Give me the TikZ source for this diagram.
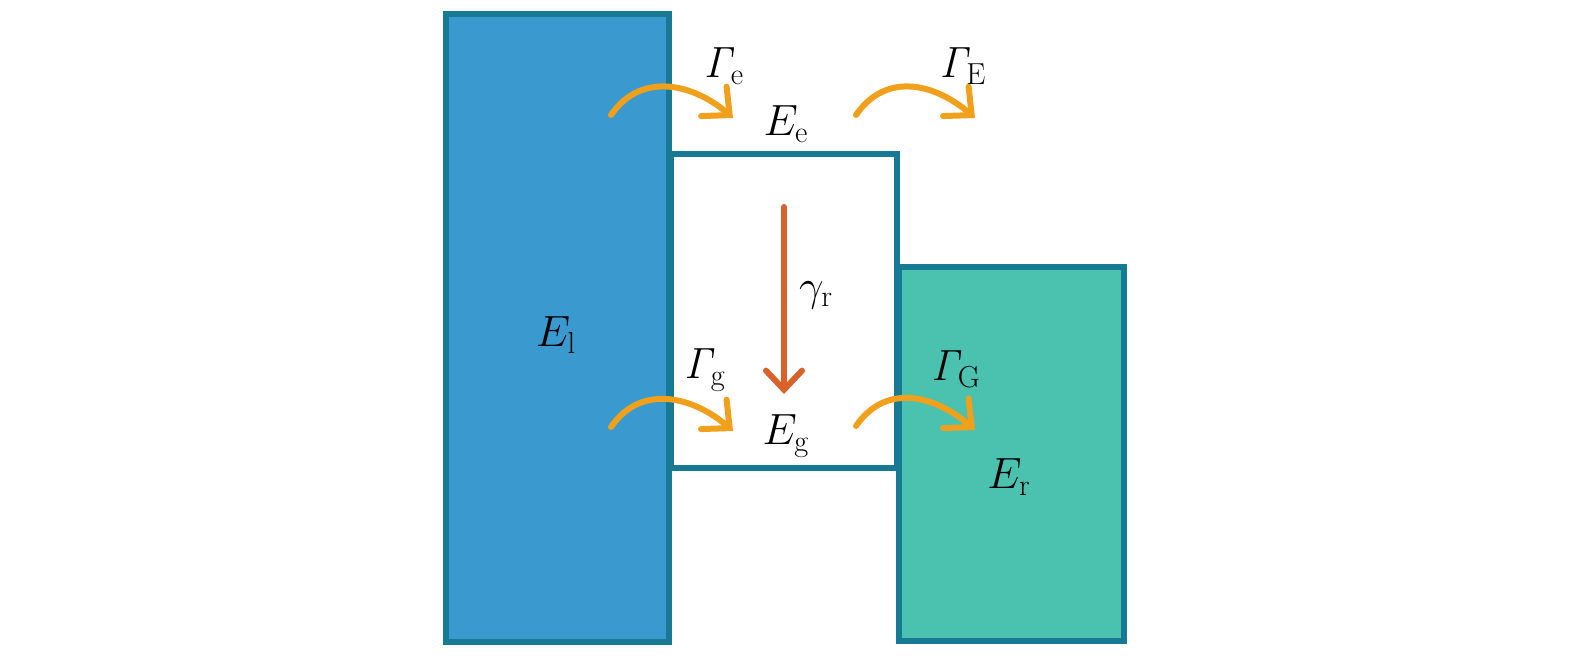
\documentclass[tikz,border=0pt]{standalone}
\usetikzlibrary{arrows.meta}
\definecolor{leadblue}{HTML}{3A9AD0}
\definecolor{leadgreen}{HTML}{4BC1AF}
\definecolor{edgeteal}{HTML}{177A94}
\definecolor{hoporange}{HTML}{F0A01A}
\definecolor{decayred}{HTML}{D9622B}
\tikzset{
  hop/.style={hoporange, line width=6pt*0.02/0.0352, line cap=round,
    -{Straight Barb[length=0.42cm, width=0.78cm, line cap=round]}},
  lbl/.style={font=\fontsize{23}{28}\selectfont}
}
\begin{document}
\begin{tikzpicture}[x=0.02cm, y=-0.02cm]
        \useasboundingbox (0,0) rectangle (1575,659);

        % Draw the dot levels
        \draw[edgeteal, line width=3pt, fill=white] (671,154) rectangle (897,468);

        % Draw left and right leads
        \draw[edgeteal, line width=3.5pt, fill=leadblue] (446,14) rectangle (669,642);
        \draw[edgeteal, line width=3.5pt, fill=leadgreen] (899,267) rectangle (1124,641);

        % Free ends of the arrows
        \coordinate (ein) at (611,115);
        \coordinate (eout) at (733,118);
        \coordinate (Ein) at (856,115);
        \coordinate (Eout) at (975,118);
        \coordinate (gin) at (611,427);
        \coordinate (gout) at (733,431);
        \coordinate (Gin) at (856,426);
        \coordinate (Gout) at (975,430);
        \coordinate (rtop) at (784,207);
        \coordinate (rbot) at (784,394);

        % Tunnelling arrows
        \draw[hop] (ein) .. controls (642,70) and (695,85) .. (eout);
        \draw[hop] (Ein) .. controls (887,70) and (937,85) .. (Eout);
        \draw[hop] (gin) .. controls (642,382) and (695,398) .. (gout);
        \draw[hop] (Gin) .. controls (887,381) and (937,397) .. (Gout);

        % Radiative decay
        \draw[decayred, line width=6pt*0.02/0.0352, line cap=round,
          -{Straight Barb[length=0.38cm, width=0.72cm, line cap=round]}] (rtop) -- (rbot);

        % Labels
        \node[lbl] (Ge) at (724,66) {$\mathit{\Gamma}_{\mathrm{e}}$};
        \node[lbl] (GE) at (963,66) {$\mathit{\Gamma}_{\mathrm{E}}$};
        \node[lbl] (Ee) at (786,124) {$E_{\mathrm{e}}$};
        \node[lbl] (gr) at (816,295) {$\gamma_{\mathrm{r}}$};
        \node[lbl] (El) at (556,335) {$E_{\mathrm{l}}$};
        \node[lbl] (Gg) at (705,370) {$\mathit{\Gamma}_{\mathrm{g}}$};
        \node[lbl] (GG) at (956,369) {$\mathit{\Gamma}_{\mathrm{G}}$};
        \node[lbl] (Eg) at (786,436) {$E_{\mathrm{g}}$};
        \node[lbl] (Er) at (1009,477) {$E_{\mathrm{r}}$};
      \end{tikzpicture}
\end{document}
